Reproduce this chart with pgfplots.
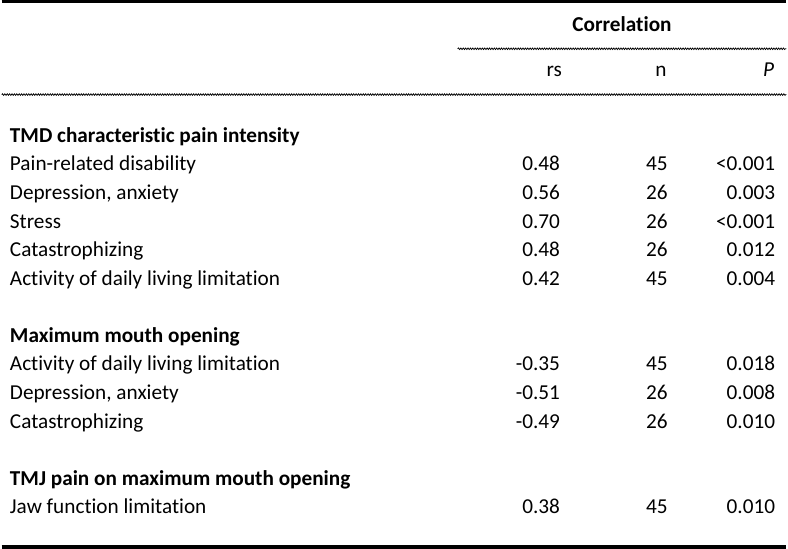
\documentclass[border=0pt]{standalone}
\usepackage{fontspec}
\setmainfont[Ligatures=CommonOff]{Carlito}
\usepackage{pgfplots}
\usepackage{pgfplotstable}
\pgfplotsset{compat=1.18}
\usetikzlibrary{decorations.pathmorphing}

\pgfplotstableread[col sep=semicolon, row sep=\\]{
y;label;rs;n;P\\
171.7;{Pain-related disability};0.48;45;{<0.001}\\
200.4;{Depression, anxiety};0.56;26;0.003\\
229.1;{Stress};0.70;26;{<0.001}\\
257.8;{Catastrophizing};0.48;26;0.012\\
286.5;{Activity of daily living limitation};0.42;45;0.004\\
372.6;{Activity of daily living limitation};-0.35;45;0.018\\
401.3;{Depression, anxiety};-0.51;26;0.008\\
430;{Catastrophizing};-0.49;26;0.010\\
516.1;{Jaw function limitation};0.38;45;0.010\\
}\rows

\pgfplotstableread[col sep=semicolon, row sep=\\]{
y;label\\
143;{TMD characteristic pain intensity}\\
343.9;{Maximum mouth opening}\\
487.4;{TMJ pain on maximum mouth opening}\\
}\groups

\newcommand{\tfont}{\fontsize{16}{19}\selectfont}

\begin{document}
\begin{tikzpicture}
\begin{axis}[
  scale only axis, width=591pt, height=413.25pt,
  xmin=0, xmax=788, ymin=0, ymax=551, y dir=reverse,
  hide axis, clip=false,
  nodes near coords align={center},
]
% rules
\addplot[black, line width=2.6pt, mark=none] coordinates {(0,1.75) (788,1.75)};
\addplot[black, line width=2.6pt, mark=none] coordinates {(0,549.25) (788,549.25)};
\addplot[black, line width=0.55pt, mark=none, decorate, decoration={snake, amplitude=0.6pt, segment length=1.8pt}] coordinates {(458,49) (788,49)};
\addplot[black, line width=0.55pt, mark=none, decorate, decoration={snake, amplitude=0.6pt, segment length=1.8pt}] coordinates {(0,95) (788,95)};
% headers
\addplot[draw=none, mark=none, nodes near coords, point meta=explicit symbolic,
  every node near coord/.style={anchor=base, inner sep=0pt, font=\tfont\bfseries}]
  table[meta=label, row sep=\\] {x y label\\ 623 31.5 Correlation\\};
\addplot[draw=none, mark=none, nodes near coords, point meta=explicit symbolic,
  every node near coord/.style={anchor=base east, inner sep=0pt, font=\tfont}]
  table[meta=label, row sep=\\] {x y label\\ 563 77 rs\\ 668 77 n\\};
\addplot[draw=none, mark=none, nodes near coords, point meta=explicit symbolic,
  every node near coord/.style={anchor=base east, inner sep=0pt, font=\tfont\itshape}]
  table[meta=label, row sep=\\] {x y label\\ 776 77 P\\};
% group labels
\addplot[draw=none, mark=none, nodes near coords, point meta=explicit symbolic,
  every node near coord/.style={anchor=base west, inner sep=0pt, font=\tfont\bfseries}]
  table[x expr=8, y=y, meta=label] {\groups};
% row labels
\addplot[draw=none, mark=none, nodes near coords, point meta=explicit symbolic,
  every node near coord/.style={anchor=base west, inner sep=0pt, font=\tfont}]
  table[x expr=8, y=y, meta=label] {\rows};
% values
\addplot[draw=none, mark=none, nodes near coords, point meta=explicit symbolic,
  every node near coord/.style={anchor=base east, inner sep=0pt, font=\tfont}]
  table[x expr=561, y=y, meta=rs] {\rows};
\addplot[draw=none, mark=none, nodes near coords, point meta=explicit symbolic,
  every node near coord/.style={anchor=base east, inner sep=0pt, font=\tfont}]
  table[x expr=669, y=y, meta=n] {\rows};
\addplot[draw=none, mark=none, nodes near coords, point meta=explicit symbolic,
  every node near coord/.style={anchor=base east, inner sep=0pt, font=\tfont}]
  table[x expr=777, y=y, meta=P] {\rows};
\end{axis}
\end{tikzpicture}
\end{document}
